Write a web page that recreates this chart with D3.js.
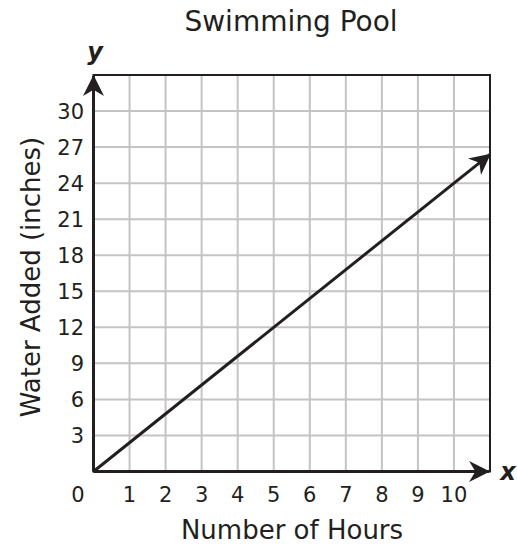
<!DOCTYPE html>
<html>
<head>
<meta charset="utf-8">
<script src="https://cdn.jsdelivr.net/npm/d3@7"></script>
<style>
  body { margin: 0; background: #fff; }
  text { font-family: "DejaVu Sans", Verdana, sans-serif; fill: #231f20; }
</style>
</head>
<body>
<div id="app"></div>
<script>
const xTicks = [1, 2, 3, 4, 5, 6, 7, 8, 9, 10];
const yTicks = [3, 6, 9, 12, 15, 18, 21, 24, 27, 30];
const lineHours = [0, 11];
const lineWater = [0, 26.4];

const margin = { left: 93.5, top: 75, right: 27, bottom: 75.5 };
const width = 517, height = 547;

const svg = d3.select("#app").append("svg")
  .attr("width", width).attr("height", height);

const x = d3.scaleLinear().domain([0, 11]).range([margin.left, width - margin.right]);
const y = d3.scaleLinear().domain([0, 33]).range([height - margin.bottom, margin.top]);

const ink = "#231f20";

// grid
svg.append("g").selectAll("line").data(d3.range(1, 11)).enter().append("line")
  .attr("x1", d => x(d)).attr("x2", d => x(d))
  .attr("y1", y(0)).attr("y2", y(33))
  .attr("stroke", "#c4c4c6").attr("stroke-width", 2);
svg.append("g").selectAll("line").data(d3.range(3, 33, 3)).enter().append("line")
  .attr("x1", x(0)).attr("x2", x(11))
  .attr("y1", d => y(d)).attr("y2", d => y(d))
  .attr("stroke", "#c4c4c6").attr("stroke-width", 2);

// frame
svg.append("rect")
  .attr("x", x(0)).attr("y", y(33))
  .attr("width", x(11) - x(0)).attr("height", y(0) - y(33))
  .attr("fill", "none").attr("stroke", ink).attr("stroke-width", 2);

// arrowheads
const defs = svg.append("defs");
defs.append("marker").attr("id", "arrow")
  .attr("viewBox", "0 0 10 10").attr("refX", 9.5).attr("refY", 5)
  .attr("markerWidth", 7).attr("markerHeight", 7)
  .attr("markerUnits", "strokeWidth")
  .attr("orient", "auto")
  .append("path").attr("d", "M0,0 L10,5 L0,10 L3,5 Z").attr("fill", ink);

// axes with arrows
svg.append("line")
  .attr("x1", x(0)).attr("y1", y(0)).attr("x2", x(0)).attr("y2", y(33) + 1)
  .attr("stroke", ink).attr("stroke-width", 3).attr("marker-end", "url(#arrow)");
svg.append("line")
  .attr("x1", x(0)).attr("y1", y(0)).attr("x2", x(11) - 1).attr("y2", y(0))
  .attr("stroke", ink).attr("stroke-width", 3).attr("marker-end", "url(#arrow)");

// data line
const line = d3.line().x(d => x(d[0])).y(d => y(d[1]));
svg.append("path")
  .datum(lineHours.map((h, i) => [h, lineWater[i]]))
  .attr("d", line)
  .attr("fill", "none").attr("stroke", ink).attr("stroke-width", 3)
  .attr("marker-end", "url(#arrow)");

// tick labels
svg.append("g").selectAll("text").data(xTicks).enter().append("text")
  .attr("x", d => x(d)).attr("y", 502)
  .attr("text-anchor", "middle").attr("font-size", 21)
  .text(d => d);
svg.append("text").attr("x", 78).attr("y", 502)
  .attr("text-anchor", "middle").attr("font-size", 21).text("0");
svg.append("g").selectAll("text").data(yTicks).enter().append("text")
  .attr("x", 84).attr("y", d => y(d) + 7.5)
  .attr("text-anchor", "end").attr("font-size", 21)
  .text(d => d);

// titles
svg.append("text").attr("x", 291).attr("y", 31)
  .attr("text-anchor", "middle").attr("font-size", 28).text("Swimming Pool");
svg.append("text").attr("x", 292).attr("y", 539)
  .attr("text-anchor", "middle").attr("font-size", 26).text("Number of Hours");
svg.append("text")
  .attr("transform", "translate(40," + 277 + ") rotate(-90)")
  .attr("text-anchor", "middle").attr("font-size", 26).text("Water Added (inches)");
svg.append("text").attr("x", 95).attr("y", 60)
  .attr("text-anchor", "middle").attr("font-size", 24)
  .attr("font-weight", "bold").attr("font-style", "italic").text("y");
svg.append("text").attr("x", 508).attr("y", 480)
  .attr("text-anchor", "middle").attr("font-size", 24)
  .attr("font-weight", "bold").attr("font-style", "italic").text("x");
</script>
</body>
</html>
